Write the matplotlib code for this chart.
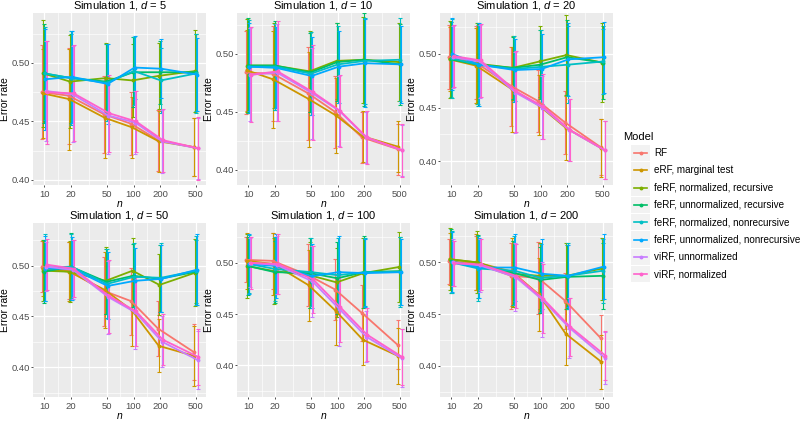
import numpy as np
import matplotlib
matplotlib.use('Agg')
import matplotlib.pyplot as plt
from matplotlib.lines import Line2D
from matplotlib.patches import Rectangle
from matplotlib.ticker import FixedLocator, NullFormatter

plt.rcParams['font.family'] = ['Liberation Sans', 'DejaVu Sans']
plt.rcParams['mathtext.fontset'] = 'custom'
plt.rcParams['mathtext.it'] = 'Liberation Sans:italic'
plt.rcParams['mathtext.rm'] = 'Liberation Sans'

n_values = [10, 20, 50, 100, 200, 500]
dims = [5, 10, 20, 50, 100, 200]
models = ['RF', 'eRF, marginal test',
          'feRF, normalized, recursive', 'feRF, unnormalized, recursive',
          'feRF, normalized, nonrecursive', 'feRF, unnormalized, nonrecursive',
          'viRF, unnormalized', 'viRF, normalized']
colors = ['#F8766D', '#CD9600', '#7CAE00', '#00BE67',
          '#00BFC4', '#00A9FF', '#C77CFF', '#FF61CC']

# mean error rate, one row per model (order as in models), columns = n_values
mean_d5 = [[0.475, 0.472, 0.456, 0.448, 0.434, 0.428],
           [0.474, 0.469, 0.453, 0.445, 0.433, 0.428],
           [0.491, 0.484, 0.487, 0.485, 0.489, 0.493],
           [0.491, 0.487, 0.484, 0.492, 0.492, 0.492],
           [0.491, 0.487, 0.483, 0.493, 0.485, 0.491],
           [0.486, 0.488, 0.482, 0.496, 0.495, 0.490],
           [0.476, 0.473, 0.455, 0.449, 0.433, 0.427],
           [0.475, 0.474, 0.457, 0.450, 0.434, 0.427]]
sd_d5 = [[0.040, 0.041, 0.033, 0.027, 0.026, 0.025],
         [0.038, 0.043, 0.034, 0.026, 0.026, 0.025],
         [0.046, 0.040, 0.030, 0.031, 0.028, 0.035],
         [0.042, 0.038, 0.032, 0.030, 0.027, 0.033],
         [0.040, 0.040, 0.033, 0.029, 0.028, 0.034],
         [0.043, 0.039, 0.034, 0.027, 0.025, 0.031],
         [0.043, 0.041, 0.033, 0.027, 0.027, 0.026],
         [0.044, 0.041, 0.033, 0.026, 0.027, 0.027]]

mean_d10 = [[0.484, 0.483, 0.466, 0.450, 0.428, 0.418],
            [0.486, 0.478, 0.461, 0.447, 0.429, 0.420],
            [0.490, 0.490, 0.485, 0.494, 0.495, 0.493],
            [0.490, 0.490, 0.484, 0.493, 0.495, 0.491],
            [0.489, 0.489, 0.483, 0.491, 0.494, 0.495],
            [0.489, 0.488, 0.481, 0.489, 0.492, 0.491],
            [0.482, 0.484, 0.466, 0.451, 0.428, 0.417],
            [0.482, 0.485, 0.467, 0.451, 0.428, 0.417]]
sd_d10 = [[0.036, 0.041, 0.040, 0.031, 0.022, 0.022],
          [0.035, 0.042, 0.041, 0.032, 0.022, 0.022],
          [0.040, 0.037, 0.035, 0.033, 0.037, 0.034],
          [0.041, 0.038, 0.034, 0.034, 0.040, 0.035],
          [0.040, 0.037, 0.036, 0.033, 0.037, 0.036],
          [0.038, 0.035, 0.034, 0.031, 0.038, 0.033],
          [0.040, 0.042, 0.039, 0.030, 0.022, 0.022],
          [0.041, 0.043, 0.041, 0.031, 0.023, 0.023]]

mean_d20 = [[0.497, 0.492, 0.470, 0.456, 0.436, 0.413],
            [0.495, 0.489, 0.467, 0.452, 0.431, 0.412],
            [0.495, 0.491, 0.487, 0.493, 0.499, 0.492],
            [0.495, 0.490, 0.487, 0.490, 0.497, 0.492],
            [0.496, 0.490, 0.486, 0.488, 0.490, 0.493],
            [0.500, 0.490, 0.485, 0.486, 0.495, 0.497],
            [0.497, 0.493, 0.464, 0.450, 0.429, 0.410],
            [0.498, 0.494, 0.465, 0.451, 0.429, 0.410]]
sd_d20 = [[0.030, 0.034, 0.037, 0.029, 0.029, 0.026],
          [0.030, 0.035, 0.040, 0.028, 0.030, 0.027],
          [0.036, 0.038, 0.030, 0.033, 0.037, 0.037],
          [0.035, 0.039, 0.029, 0.032, 0.035, 0.034],
          [0.037, 0.037, 0.031, 0.034, 0.036, 0.030],
          [0.034, 0.039, 0.029, 0.033, 0.034, 0.033],
          [0.029, 0.034, 0.038, 0.029, 0.029, 0.027],
          [0.029, 0.034, 0.038, 0.030, 0.029, 0.027]]

mean_d50 = [[0.499, 0.495, 0.475, 0.465, 0.438, 0.415],
            [0.497, 0.494, 0.476, 0.456, 0.421, 0.411],
            [0.495, 0.494, 0.485, 0.495, 0.481, 0.493],
            [0.494, 0.499, 0.484, 0.490, 0.487, 0.494],
            [0.498, 0.499, 0.482, 0.489, 0.488, 0.495],
            [0.497, 0.497, 0.480, 0.485, 0.487, 0.496],
            [0.499, 0.496, 0.469, 0.454, 0.425, 0.407],
            [0.501, 0.497, 0.470, 0.455, 0.427, 0.410]]
sd_d50 = [[0.025, 0.028, 0.034, 0.033, 0.027, 0.028],
          [0.027, 0.029, 0.037, 0.035, 0.026, 0.030],
          [0.030, 0.030, 0.033, 0.032, 0.030, 0.033],
          [0.031, 0.033, 0.032, 0.031, 0.033, 0.031],
          [0.033, 0.032, 0.034, 0.033, 0.034, 0.034],
          [0.032, 0.031, 0.033, 0.032, 0.033, 0.035],
          [0.024, 0.029, 0.036, 0.036, 0.025, 0.029],
          [0.025, 0.028, 0.036, 0.034, 0.025, 0.028]]

mean_d100 = [[0.503, 0.502, 0.488, 0.474, 0.451, 0.420],
             [0.502, 0.499, 0.478, 0.453, 0.425, 0.409],
             [0.497, 0.492, 0.488, 0.481, 0.490, 0.496],
             [0.497, 0.491, 0.490, 0.485, 0.491, 0.492],
             [0.499, 0.494, 0.491, 0.488, 0.491, 0.491],
             [0.499, 0.497, 0.487, 0.491, 0.490, 0.491],
             [0.500, 0.498, 0.482, 0.455, 0.428, 0.407],
             [0.500, 0.499, 0.484, 0.457, 0.430, 0.408]]
sd_d100 = [[0.022, 0.027, 0.030, 0.030, 0.027, 0.024],
           [0.027, 0.030, 0.035, 0.033, 0.025, 0.027],
           [0.031, 0.032, 0.032, 0.034, 0.034, 0.034],
           [0.028, 0.030, 0.034, 0.035, 0.035, 0.033],
           [0.028, 0.031, 0.033, 0.036, 0.033, 0.034],
           [0.029, 0.031, 0.031, 0.035, 0.033, 0.032],
           [0.024, 0.028, 0.035, 0.036, 0.025, 0.028],
           [0.025, 0.029, 0.033, 0.034, 0.026, 0.027]]

mean_d200 = [[0.501, 0.499, 0.487, 0.485, 0.463, 0.427],
             [0.503, 0.500, 0.491, 0.469, 0.431, 0.404],
             [0.503, 0.500, 0.489, 0.487, 0.487, 0.494],
             [0.501, 0.496, 0.490, 0.483, 0.486, 0.487],
             [0.500, 0.494, 0.492, 0.485, 0.487, 0.492],
             [0.500, 0.495, 0.495, 0.489, 0.487, 0.496],
             [0.500, 0.497, 0.486, 0.464, 0.437, 0.408],
             [0.499, 0.498, 0.487, 0.465, 0.438, 0.410]]
sd_d200 = [[0.022, 0.026, 0.032, 0.035, 0.027, 0.022],
           [0.025, 0.027, 0.033, 0.035, 0.030, 0.026],
           [0.030, 0.030, 0.032, 0.032, 0.032, 0.030],
           [0.031, 0.030, 0.031, 0.032, 0.031, 0.032],
           [0.030, 0.031, 0.033, 0.033, 0.032, 0.031],
           [0.029, 0.029, 0.032, 0.034, 0.030, 0.031],
           [0.023, 0.026, 0.033, 0.036, 0.029, 0.025],
           [0.022, 0.025, 0.031, 0.033, 0.028, 0.024]]

panel_means = [mean_d5, mean_d10, mean_d20, mean_d50, mean_d100, mean_d200]
panel_sds = [sd_d5, sd_d10, sd_d20, sd_d50, sd_d100, sd_d200]
panel_ylims = [(0.3957, 0.5426), (0.387, 0.5353), (0.3776, 0.5383),
               (0.3706, 0.542), (0.369, 0.539), (0.370, 0.538)]

W, H = 800, 421
fig = plt.figure(figsize=(W / 100, H / 100), dpi=100)

col_left = [33, 237, 440]
row_top = [13, 223]
row_h = [172, 174]
panel_w = 173

# dodge offsets in log10 units
offsets = np.linspace(-0.027, 0.027, len(models))
xmin, xmax = 10 ** 0.874, 10 ** 2.811
x_minor = [np.sqrt(n_values[i] * n_values[i + 1]) for i in range(len(n_values) - 1)]

for k, d in enumerate(dims):
    r, c = divmod(k, 3)
    rect = [col_left[c] / W, 1 - (row_top[r] + row_h[r]) / H, panel_w / W, row_h[r] / H]
    ax = fig.add_axes(rect)
    ax.set_facecolor('#EBEBEB')
    ax.set_xscale('log')
    for i in range(len(models)):
        x = np.array(n_values) * 10 ** offsets[i]
        ax.errorbar(x, panel_means[k][i], yerr=panel_sds[k][i], color=colors[i],
                    lw=1.3, elinewidth=0.8, capsize=1.3, capthick=0.8,
                    marker='o', ms=1.8, zorder=3)
    ax.set_xlim(xmin, xmax)
    ax.set_ylim(*panel_ylims[k])
    ax.xaxis.set_major_locator(FixedLocator(n_values))
    ax.xaxis.set_minor_locator(FixedLocator(x_minor))
    ax.set_xticklabels([str(v) for v in n_values])
    ax.xaxis.set_minor_formatter(NullFormatter())
    ax.yaxis.set_major_locator(FixedLocator([0.40, 0.45, 0.50]))
    ax.yaxis.set_minor_locator(FixedLocator([0.375, 0.425, 0.475, 0.525]))
    ax.set_yticklabels(['0.40', '0.45', '0.50'])
    ax.grid(which='major', color='white', lw=0.9, zorder=0)
    ax.grid(which='minor', color='white', lw=0.45, zorder=0)
    ax.set_axisbelow(True)
    for s in ax.spines.values():
        s.set_visible(False)
    ax.tick_params(which='major', labelsize=6.8, labelcolor='#4D4D4D',
                   length=1.5, width=0.6, color='#333333')
    ax.tick_params(axis='x', which='major', pad=1.8)
    ax.tick_params(axis='y', which='major', pad=0.8)
    ax.tick_params(which='minor', length=0)
    ax.set_xlabel('n', fontsize=7.5, style='italic', labelpad=0)
    ax.set_ylabel('Error rate', fontsize=7.5, labelpad=1.0)
    ax.set_title('Simulation 1, $d$ = %d' % d, fontsize=8, pad=3)

# legend drawn by hand in figure pixels
fig.text(623 / W, 1 - 137 / H, 'Model', fontsize=8, va='center', ha='left')
for i, name in enumerate(models):
    yc = 1 - (153 + 17.3 * i) / H
    fig.patches.append(Rectangle((631 / W, yc - 8.3 / H), 19 / W, 16.6 / H,
                                 transform=fig.transFigure, facecolor='#F2F2F2',
                                 edgecolor='none'))
    fig.lines.append(Line2D([634 / W, 647 / W], [yc, yc], transform=fig.transFigure,
                            color=colors[i], lw=1.2))
    fig.lines.append(Line2D([640.5 / W], [yc], transform=fig.transFigure,
                            color=colors[i], marker='o', ms=1.8))
    fig.text(654 / W, yc, name, fontsize=7.1, va='center', ha='left')

fig.savefig('out.png', dpi=100)
